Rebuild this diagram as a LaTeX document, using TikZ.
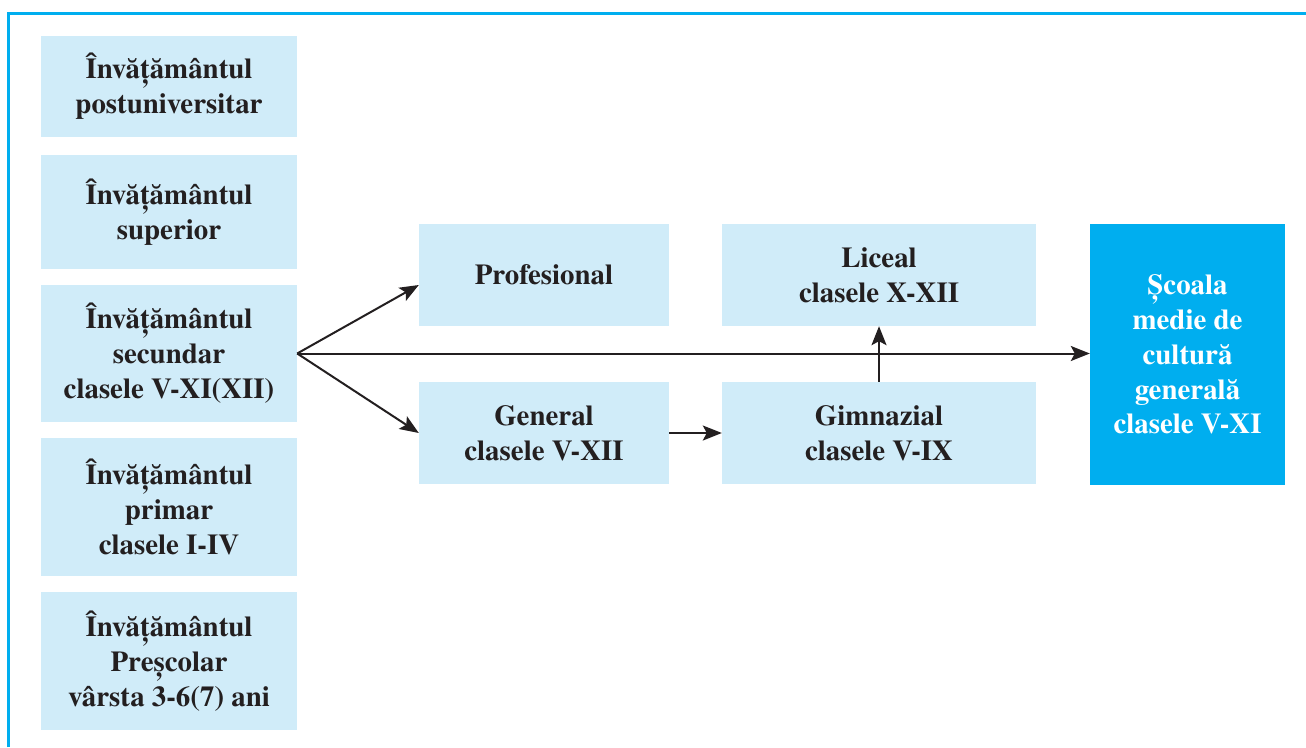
\documentclass[tikz,border=0pt]{standalone}
\usepackage{fontspec}
\setmainfont{texgyretermes}[Extension=.otf, UprightFont=*-regular, BoldFont=*-bold, ItalicFont=*-italic, BoldItalicFont=*-bolditalic]
\usetikzlibrary{arrows.meta}
\definecolor{boxblue}{HTML}{D0ECF9}
\definecolor{cyanB}{HTML}{00AEEF}
\definecolor{ink}{HTML}{231F20}
\begin{document}
\begin{tikzpicture}[x=1bp,y=-1bp,
  lvl/.style={fill=boxblue, draw=none, inner sep=0pt, align=center,
    font=\fontsize{29}{35}\selectfont\rmfamily\bfseries, text=ink},
  leftbox/.style={lvl, minimum width=256bp},
  midbox/.style={lvl, minimum width=250bp, minimum height=102bp},
  rightbox/.style={lvl, minimum width=314bp, minimum height=102bp},
  hibox/.style={lvl, fill=cyanB, text=white, minimum width=195bp, minimum height=261bp},
  arr/.style={draw=ink, line width=2bp, -{Stealth[length=19bp,width=15bp,inset=4bp]}},
  frame/.style={draw=cyanB, line width=2.7bp, line join=miter}
]
\useasboundingbox (0,0) rectangle (1306,747);
\draw[frame] (8.7,747) -- (8.7,13.7) -- (1306,13.7);

\node[leftbox, minimum height=101bp] (b1) at (169,86.5) {Învățământul\\postuniversitar};
\node[leftbox, minimum height=113.5bp] (b2) at (169,211.75) {Învățământul\\superior};
\node[leftbox, minimum height=137bp] (b3) at (169,353.5) {Învățământul\\secundar\\clasele V-XI(XII)};
\node[leftbox, minimum height=137.5bp] (b4) at (169,506.75) {Învățământul\\primar\\clasele I-IV};
\node[leftbox, minimum height=138bp] (b5) at (169,661) {Învățământul\\Preșcolar\\vârsta 3-6(7) ani};

\node[midbox] (prof) at (544,275) {Profesional};
\node[midbox] (gen) at (544,433) {General\\clasele V-XII};
\node[rightbox] (lic) at (879,275) {Liceal\\clasele X-XII};
\node[rightbox] (gim) at (879,433) {Gimnazial\\clasele V-IX};
\node[hibox] (sc) at (1187.5,354.5) {Școala\\medie de\\cultură\\generală\\clasele V-XI};

\draw[arr] (b3.east) -- ([yshift=-10bp]prof.west);
\draw[arr] (b3.east) -- (gen.west);
\draw[arr] (b3.east) -- (b3.east -| sc.west);
\draw[arr] (gen.east) -- (gim.west);
\draw[arr] (gim.north) -- (lic.south);
\end{tikzpicture}
\end{document}
